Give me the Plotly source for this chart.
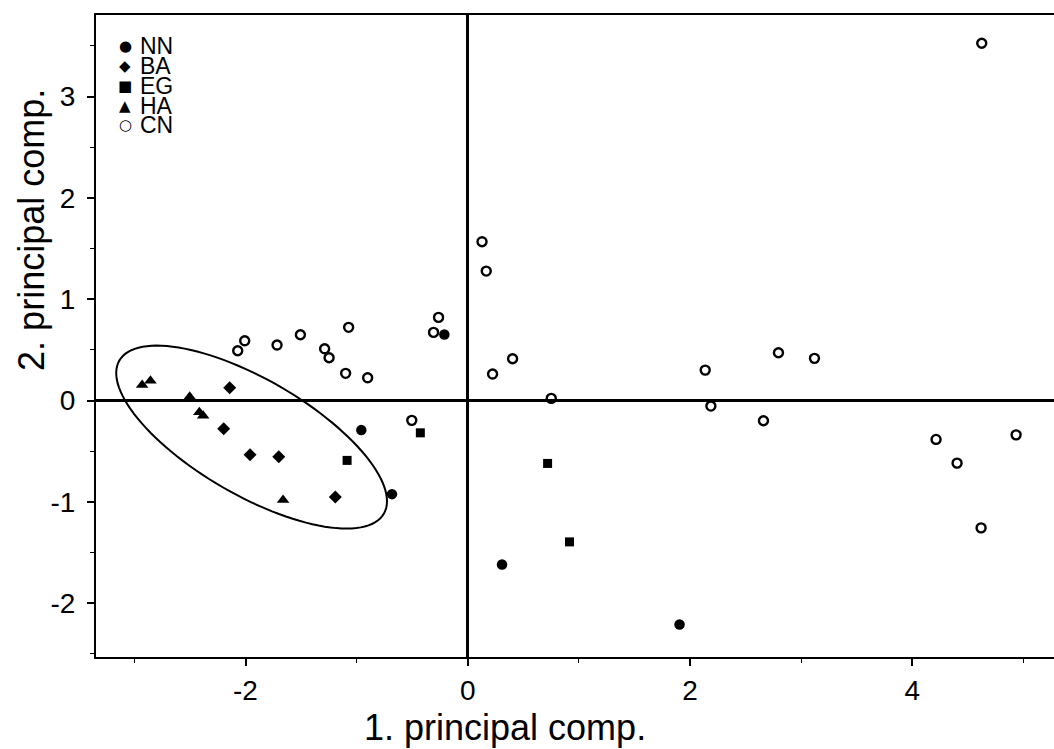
import numpy as np
import plotly.graph_objects as go

# ---- data ----
nn_x = [-0.211, -0.958, -0.682, 0.308, 1.905]
nn_y = [0.653, -0.291, -0.923, -1.617, -2.209]

ba_x = [-2.142, -2.196, -1.959, -1.701, -1.192]
ba_y = [0.126, -0.278, -0.535, -0.555, -0.950]

eg_x = [-1.086, -0.427, 0.718, 0.915]
eg_y = [-0.590, -0.318, -0.620, -1.394]

ha_x = [-2.930, -2.855, -2.502, -2.415, -2.381, -1.662]
ha_y = [0.153, 0.195, 0.038, -0.116, -0.150, -0.982]

cn_x = [-2.070, -2.007, -1.716, -1.506, -1.072, -1.288, -1.248, -1.099, -0.901,
        -0.504, -0.263, -0.308, 0.128, 0.166, 0.223, 0.403, 0.751, 2.136, 2.187,
        2.660, 2.795, 3.119, 4.213, 4.402, 4.933, 4.618, 4.624]
cn_y = [0.492, 0.590, 0.548, 0.650, 0.723, 0.511, 0.423, 0.269, 0.225,
        -0.195, 0.821, 0.673, 1.568, 1.278, 0.262, 0.413, 0.022, 0.301, -0.054,
        -0.199, 0.472, 0.417, -0.383, -0.617, -0.338, -1.256, 3.526]

group_names = ["NN", "BA", "EG", "HA", "CN"]
group_glyphs = ["\u25CF", "\u25C6", "\u25A0", "\u25B2", "\u25CB"]

x_ticks = [-2, 0, 2, 4]
y_ticks = [-2, -1, 0, 1, 2, 3]

# confidence ellipse (centre, semi-axis vectors in data units)
ell_center = (-1.945, -0.360)
ell_major = (1.1900, -0.755)
ell_minor = (-0.2600, -0.4950)

FONT = "Liberation Sans, Arial, sans-serif"

fig = go.Figure()

series = [
    (nn_x, nn_y, "NN", dict(symbol="circle", size=10.5, color="black")),
    (ba_x, ba_y, "BA", dict(symbol="diamond", size=10, color="black")),
    (eg_x, eg_y, "EG", dict(symbol="square", size=9, color="black")),
    (ha_x, ha_y, "HA", dict(symbol="triangle-up", size=11, color="black")),
    (cn_x, cn_y, "CN", dict(symbol="circle-open", size=9, color="black",
                            line=dict(width=2.4, color="black"))),
]
for xs, ys, name, mk in series:
    fig.add_trace(go.Scatter(x=xs, y=ys, mode="markers", name=name,
                             marker=mk, showlegend=False))

# ellipse path
t = np.linspace(0, 2 * np.pi, 121)
ex = ell_center[0] + np.cos(t) * ell_major[0] + np.sin(t) * ell_minor[0]
ey = ell_center[1] + np.cos(t) * ell_major[1] + np.sin(t) * ell_minor[1]
path = "M " + " L ".join(f"{a:.4f},{b:.4f}" for a, b in zip(ex, ey)) + " Z"
fig.add_shape(type="path", path=path, xref="x", yref="y",
              line=dict(color="black", width=2))

# legend drawn as text rows at top-left
leg_x_glyph = -3.08
leg_x_text = -2.965
leg_rows = [3.50, 3.30, 3.10, 2.91, 2.72]
for g, name, yy in zip(group_glyphs, group_names, leg_rows):
    fig.add_annotation(x=leg_x_glyph, y=yy, xref="x", yref="y", text=g,
                       showarrow=False, xanchor="center", yanchor="middle",
                       font=dict(family="DejaVu Sans", size=15, color="black"))
    fig.add_annotation(x=leg_x_text, y=yy, xref="x", yref="y", text=name,
                       showarrow=False, xanchor="left", yanchor="middle",
                       font=dict(family=FONT, size=23, color="black"))

# axis titles
fig.add_annotation(x=0.337, y=-0.145, xref="x", yref="paper",
                   text="1. principal comp.", showarrow=False,
                   xanchor="center", yanchor="bottom",
                   font=dict(family=FONT, size=36, color="black"))
fig.add_annotation(x=-0.068, y=1.683, xref="paper", yref="y",
                   text="2. principal comp.", showarrow=False, textangle=-90,
                   xanchor="center", yanchor="middle",
                   font=dict(family=FONT, size=36, color="black"))

fig.update_layout(
    width=1054, height=749,
    margin=dict(l=96, r=0, t=15, b=92),
    paper_bgcolor="white", plot_bgcolor="white",
    font=dict(family=FONT, color="black"),
    xaxis=dict(range=[-3.345, 5.274], tickvals=x_ticks,
               ticktext=[str(v) for v in x_ticks],
               ticks="outside", ticklen=7, tickwidth=1.5, tickcolor="black",
               minor=dict(dtick=1, tick0=0, ticks="outside", ticklen=4,
                          tickwidth=1.2, tickcolor="black", showgrid=False),
               showgrid=False, zeroline=True, zerolinecolor="black",
               zerolinewidth=3, showline=True, linecolor="black",
               linewidth=2, mirror=True,
               tickfont=dict(family=FONT, size=28, color="black")),
    yaxis=dict(range=[-2.53, 3.805], tickvals=y_ticks,
               ticktext=[str(v) for v in y_ticks],
               ticks="outside", ticklen=7, tickwidth=1.5, tickcolor="black",
               ticklabelstandoff=6,
               minor=dict(dtick=0.5, tick0=0, ticks="outside", ticklen=4,
                          tickwidth=1.2, tickcolor="black", showgrid=False),
               showgrid=False, zeroline=True, zerolinecolor="black",
               zerolinewidth=3, showline=True, linecolor="black",
               linewidth=2, mirror=False,
               tickfont=dict(family=FONT, size=28, color="black")),
)

fig.write_html("out.html",
               config={"displayModeBar": False},
               post_script="document.body.style.margin='0px';"
                           "document.body.style.overflow='hidden';")
